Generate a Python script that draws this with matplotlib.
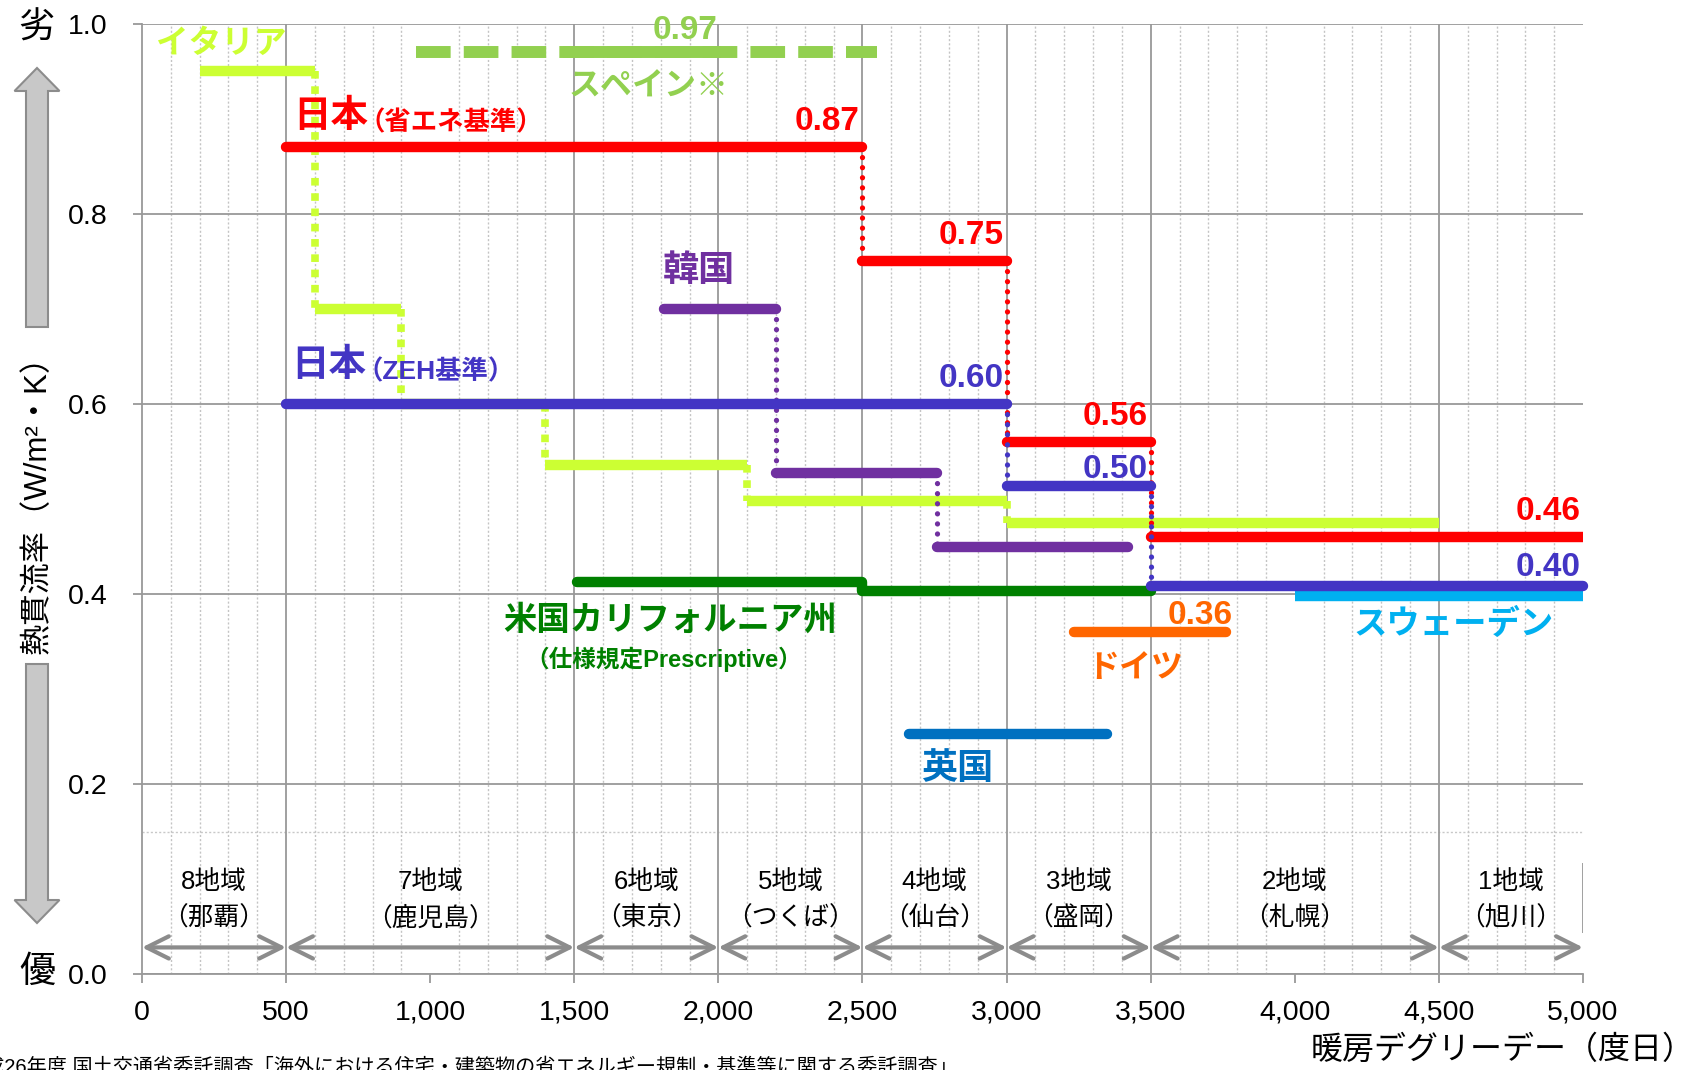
import matplotlib
matplotlib.use("Agg")
import numpy as np
import matplotlib.pyplot as plt
from matplotlib.patches import FancyArrow
from matplotlib.ticker import FuncFormatter

plt.rcParams['font.family'] = ['Liberation Sans', 'Noto Sans CJK JP']

# 暖房デグリーデー(度日)の区切り と 熱貫流率 U (W/m2K)
jp_std_dd = [500, 2500, 3000, 3500, 5000]
jp_std_u = [0.87, 0.75, 0.56, 0.46]
jp_zeh_dd = [500, 3000, 3500, 5000]
jp_zeh_u = [0.60, 0.50, 0.40]
italy_dd = [200, 600, 900, 1400, 2100, 3000, 4500]
italy_u = [0.95, 0.70, 0.60, 0.536, 0.498, 0.475]
korea_dd = [1810, 2200, 2760, 3420]
korea_u = [0.70, 0.527, 0.449]
calif_dd = [1510, 2500, 3500]
calif_u = [0.413, 0.403]
spain_dd = [950, 2550]
spain_core_dd = [1460, 2010]
spain_u = 0.97
germany_dd = [3235, 3760]
germany_u = 0.36
uk_dd = [2660, 3350]
uk_u = 0.253
sweden_dd = [4000, 5000]
sweden_u = 0.40

zone_edges = [0, 500, 1500, 2000, 2500, 3000, 3500, 4500, 5000]
zone_names = ['8地域', '7地域', '6地域', '5地域', '4地域', '3地域', '2地域', '1地域']
zone_cities = ['那覇', '鹿児島', '東京', 'つくば', '仙台', '盛岡', '札幌', '旭川']

RED = '#FF0000'
BLUE = '#4335C4'
ITALY = '#CCFF33'
SPAIN = '#92D050'
KOREA = '#7030A0'
CALIF = '#008000'
GERMANY = '#FF6600'
UK = '#0070C0'
SWEDEN = '#00B0F0'
GRID = '#999999'

# 重なり回避のための表示上のずらし量 (px)
zeh_lift_px = [0, 13, 8]
sweden_lift_px = -2.5

fig = plt.figure(figsize=(17.02, 10.70), dpi=100)
ax = fig.add_axes([0.0834, 0.0897, 0.8467, 0.8879])
ax.set_xlim(0, 5000)
ax.set_ylim(0, 1.0)
px = 1.0 / (ax.get_position().height * fig.get_figheight() * fig.dpi)

# grid
ax.set_xticks(np.arange(0, 5001, 500))
ax.set_xticks(np.arange(0, 5001, 100), minor=True)
ax.set_yticks(np.arange(0, 1.01, 0.2))
ax.grid(which='minor', axis='x', color='#C4C4C4', lw=1, ls=(0, (1.5, 1.5)), zorder=0)
ax.grid(which='major', axis='y', color=GRID, lw=1.3, zorder=0)
for x in zone_edges[1:-1]:
    ax.axvline(x, color=GRID, lw=1.3, zorder=0.5)
ax.axhline(0.15, color='#C8C8C8', lw=1, ls=(0, (1.5, 1.5)), zorder=0)
for s in ['top', 'right']:
    ax.spines[s].set_visible(False)
for s in ['left', 'bottom']:
    ax.spines[s].set_color(GRID)
    ax.spines[s].set_linewidth(1.3)
ax.tick_params(which='major', length=6.5, width=1.3, color=GRID, labelsize=20.5)
ax.tick_params(axis='x', pad=12)
ax.tick_params(axis='y', pad=18)
ax.tick_params(which='minor', length=0)
ax.xaxis.set_major_formatter(FuncFormatter(lambda v, p: f'{int(v):,}'))
ax.yaxis.set_major_formatter(FuncFormatter(lambda v, p: f'{v:.1f}'))

LW = 7.5
round_dots = dict(lw=3.8, ls=(0, (0.01, 1.9)), dash_capstyle='round')
square_dots = dict(lw=5.5, ls=(0, (1, 1)), dash_capstyle='butt')


def draw_steps(xs, us, color, lift=None, cap='round', dots=round_dots, z=4, clip=True):
    lift = lift or [0] * len(us)
    ys = [u + d * px for u, d in zip(us, lift)]
    for i in range(len(us)):
        ax.plot([xs[i], xs[i + 1]], [ys[i], ys[i]], color=color, lw=LW,
                solid_capstyle=cap, zorder=z, clip_on=clip)
        if i < len(us) - 1:
            ax.plot([xs[i + 1], xs[i + 1]], [ys[i], ys[i + 1]], color=color,
                    zorder=z, **dots)
    return ys


def value_label(x, y, text, color, dy=12.5, dx=-2, ha='right'):
    ax.annotate(text, xy=(x, y), xytext=(dx, dy), textcoords='offset points',
                ha=ha, va='baseline', color=color, fontsize=24, fontweight='bold',
                zorder=10, annotation_clip=False)


# イタリア
draw_steps(italy_dd, italy_u, ITALY, cap='butt', dots=square_dots, z=3)
# スペイン
ax.plot(spain_dd, [spain_u] * 2, color=SPAIN, lw=8.6, ls=(0, (2.9, 1.1)),
        dash_capstyle='butt', zorder=3)
ax.plot(spain_core_dd, [spain_u] * 2, color=SPAIN, lw=8.6,
        solid_capstyle='butt', zorder=3)
# 韓国
draw_steps(korea_dd, korea_u, KOREA, z=4)
# 米国カリフォルニア州
ax.step(calif_dd, calif_u + [calif_u[-1]], where='post', color=CALIF, lw=LW,
        solid_capstyle='round', solid_joinstyle='round', zorder=4)
# ドイツ・英国・スウェーデン
ax.plot(germany_dd, [germany_u] * 2, color=GERMANY, lw=LW, solid_capstyle='round', zorder=4)
ax.plot(uk_dd, [uk_u] * 2, color=UK, lw=LW, solid_capstyle='round', zorder=4)
ax.plot(sweden_dd, [sweden_u + sweden_lift_px * px] * 2, color=SWEDEN, lw=LW,
        solid_capstyle='butt', zorder=4)
# 日本 (省エネ基準 / ZEH基準)
std_y = draw_steps(jp_std_dd, jp_std_u, RED, z=5)
zeh_y = draw_steps(jp_zeh_dd, jp_zeh_u, BLUE, lift=zeh_lift_px, z=6, clip=False)

for x, y, u in zip(jp_std_dd[1:], std_y, jp_std_u):
    value_label(x, y, f'{u:.2f}', RED)
for x, y, u, dy in zip(jp_zeh_dd[1:], zeh_y, jp_zeh_u, [12, 6, 7.5]):
    value_label(x, y, f'{u:.2f}', BLUE, dy=dy)
value_label(germany_dd[1], germany_u, f'{germany_u:.2f}', GERMANY, dy=6, dx=5)
value_label(spain_core_dd[1], spain_u, f'{spain_u:.2f}', SPAIN, dy=9.5, dx=-3)


# 国名ラベル
def name(x, y, s, color, size=23):
    ax.text(x, y, s, color=color, fontsize=size, fontweight='bold',
            ha='center', va='center', zorder=10)


name(275, 0.978, 'イタリア', ITALY, 23.5)
name(1759, 0.933, 'スペイン※', SPAIN)
name(1933, 0.739, '韓国', KOREA, 26)
name(1831, 0.372, '米国カリフォルニア州', CALIF, 24)
name(1811, 0.331, '（仕様規定Prescriptive）', CALIF, 17)
name(3448, 0.321, 'ドイツ', GERMANY)
name(4552, 0.367, 'スウェーデン', SWEDEN, 24)
name(2830, 0.215, '英国', UK, 26)

t1 = ax.text(525, 0.902, '日本', color=RED, fontsize=27, fontweight='bold',
             ha='left', va='center', zorder=10)
ax.annotate('（省エネ基準）', xy=(1, 0), xycoords=t1, xytext=(-7, 0),
            textcoords='offset points', ha='left', va='bottom',
            color=RED, fontsize=19, fontweight='bold', zorder=10)
t2 = ax.text(518, 0.640, '日本', color=BLUE, fontsize=27, fontweight='bold',
             ha='left', va='center', zorder=10)
ax.annotate('（ZEH基準）', xy=(1, 0), xycoords=t2, xytext=(-7, 0),
            textcoords='offset points', ha='left', va='bottom',
            color=BLUE, fontsize=19, fontweight='bold', zorder=10)

# 地域区分
for i, (zn, city) in enumerate(zip(zone_names, zone_cities)):
    x0, x1 = zone_edges[i], zone_edges[i + 1]
    xc = (x0 + x1) / 2
    ax.text(xc, 0.097, zn, ha='center', va='center', fontsize=18.5, zorder=10)
    ax.text(xc, 0.059, f'（{city}）', ha='center', va='center', fontsize=18.5, zorder=10)
    ax.annotate('', xy=(x0, 0.028), xytext=(x1, 0.028),
                arrowprops=dict(arrowstyle='<->,head_length=0.8,head_width=0.4',
                                color='#8C8C8C', lw=3, shrinkA=0, shrinkB=0,
                                mutation_scale=20), zorder=2)
ax.vlines(zone_edges[-1], 0.043, 0.117, color=GRID, lw=1.3, zorder=2)

# 縦軸の優劣矢印と軸ラベル
arrow_kw = dict(width=0.22, head_width=0.45, head_length=0.23,
                length_includes_head=True, facecolor='#C8C8C8',
                edgecolor='#8C8C8C', lw=1.5, transform=fig.dpi_scale_trans)
fig.patches.append(FancyArrow(0.37, 7.43, 0, 2.59, **arrow_kw))
fig.patches.append(FancyArrow(0.37, 4.06, 0, -2.59, **arrow_kw))
fig.text(0.0223, 0.5355, '熱貫流率（W/m²・K）', rotation=90, ha='center',
         va='center', fontsize=22.5)
fig.text(0.0212, 0.974, '劣', ha='center', va='center', fontsize=26)
fig.text(0.0217, 0.0916, '優', ha='center', va='center', fontsize=26)

fig.text(0.9955, 0.0178, '暖房デグリーデー（度日）', ha='right', va='center', fontsize=23)
fig.text(-0.0212, 0.003, '平成26年度 国土交通省委託調査「海外における住宅・建築物の'
         '省エネルギー規制・基準等に関する委託調査」', ha='left', va='center', fontsize=14.5)

fig.savefig('out.png', dpi=100)
